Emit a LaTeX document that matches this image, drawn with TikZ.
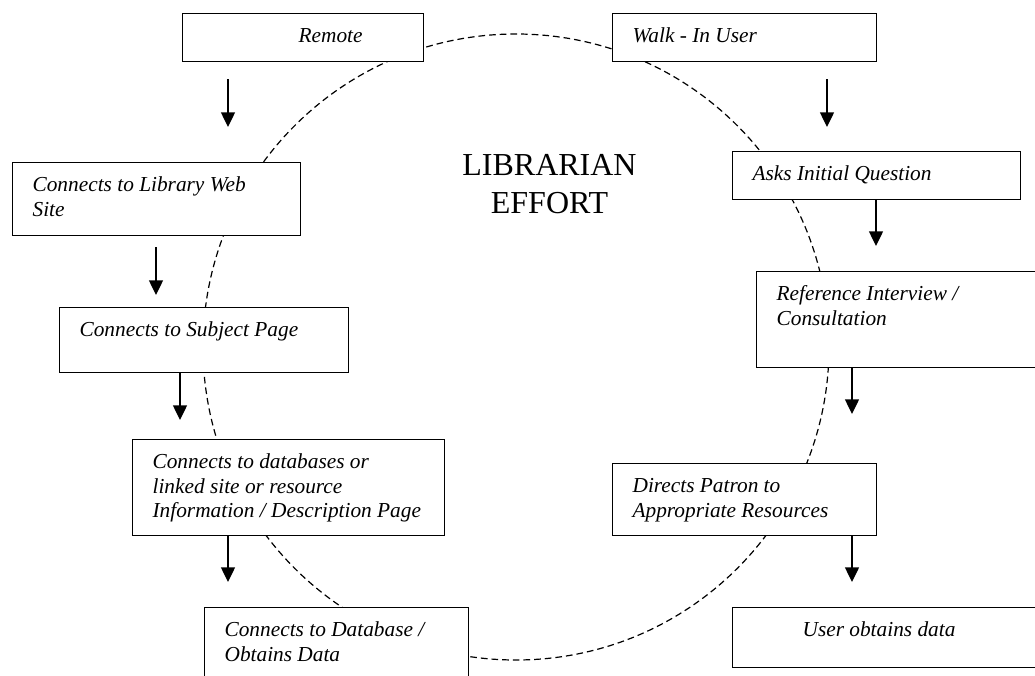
\documentclass[tikz,border=0pt]{standalone}
\usepackage{fontspec}
\setmainfont{Liberation Serif}
\usetikzlibrary{arrows.meta}

\tikzset{
	stepbox/.style={draw, fill=white, line width=0.9pt, anchor=north west,
		align=flush left, inner xsep=15pt, inner ysep=0pt, text height=21.75pt,
		font=\fontsize{16}{18.4}\selectfont\itshape,
		execute at begin node={\spaceskip=0pt \xspaceskip=0pt}},
	heading/.style={anchor=base, align=center, text width=200pt,
		font=\fontsize{24}{28.5}\selectfont},
	flow/.style={-{Triangle[width=10.5pt,length=11pt]}, line width=1pt},
	effortloop/.style={dash pattern=on 5pt off 3pt, line width=0.9pt}
}

\begin{document}
\begin{tikzpicture}[x=0.75pt, y=-0.75pt]
	\useasboundingbox (0,0) rectangle (1035,675);
	\clip (0,0) rectangle (1035,675);

	% librarian effort
	\coordinate (hub) at (516,347);
	\draw [ effortloop ] (hub) circle [radius=234.75pt];
	\node [ heading ] (effort) at (549.5,175) {LIBRARIAN\\EFFORT};

	% remote user
	\node [ stepbox, text width=150.75pt, text depth=14.25pt ] (r1) at (182,13)
		{\hspace*{72pt}Remote};
	\node [ stepbox, text width=186pt, text depth=33pt ] (r2) at (12,162)
		{Connects to Library Web\\Site};
	\node [ stepbox, text width=186.75pt, text depth=27pt ] (r3) at (59,307)
		{Connects to Subject Page};
	\node [ stepbox, text width=204pt, text depth=50.25pt ] (r4) at (132,439)
		{Connects to databases or\\linked site or resource\\Information / Description Page};
	\node [ stepbox, text width=168pt, text depth=38.25pt ] (r5) at (204,607)
		{Connects to Database /\\Obtains Data};

	% walk-in user
	\node [ stepbox, text width=168pt, text depth=14.25pt ] (w1) at (612,13)
		{Walk - In User};
	\node [ stepbox, text width=186pt, text depth=14.25pt ] (w2) at (732,151)
		{Asks Initial Question};
	\node [ stepbox, text width=190.5pt, text depth=50.25pt ] (w3) at (756,271)
		{Reference Interview /\\Consultation};
	\node [ stepbox, text width=168pt, text depth=32.25pt ] (w4) at (612,463)
		{Directs Patron to\\Appropriate Resources};
	\node [ stepbox, text width=208.5pt, text depth=23.25pt ] (w5) at (732,607)
		{\hspace*{37.5pt}User obtains data};

	% arrows
	\coordinate (r1a) at (228,79);  \coordinate (r1b) at (228,127);
	\coordinate (r2a) at (156,247); \coordinate (r2b) at (156,295);
	\coordinate (r3a) at (180,372); \coordinate (r3b) at (180,420);
	\coordinate (r4a) at (228,535); \coordinate (r4b) at (228,582);
	\coordinate (w1a) at (827,79);  \coordinate (w1b) at (827,127);
	\coordinate (w2a) at (876,199); \coordinate (w2b) at (876,246);
	\coordinate (w3a) at (852,367); \coordinate (w3b) at (852,414);
	\coordinate (w4a) at (852,535); \coordinate (w4b) at (852,582);
	\draw [ flow ] (r1a) to (r1b);
	\draw [ flow ] (r2a) to (r2b);
	\draw [ flow ] (r3a) to (r3b);
	\draw [ flow ] (r4a) to (r4b);
	\draw [ flow ] (w1a) to (w1b);
	\draw [ flow ] (w2a) to (w2b);
	\draw [ flow ] (w3a) to (w3b);
	\draw [ flow ] (w4a) to (w4b);
\end{tikzpicture}
\end{document}
